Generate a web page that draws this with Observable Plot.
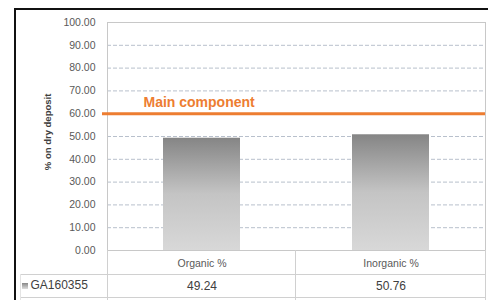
<!DOCTYPE html>
<html>
<head>
<meta charset="utf-8">
<script src="https://cdn.jsdelivr.net/npm/d3@7"></script>
<script src="https://cdn.jsdelivr.net/npm/@observablehq/plot@0.6"></script>
<style>
  html, body { margin: 0; padding: 0; background: #fff; }
  #wrap { position: relative; width: 488px; height: 300px; overflow: hidden; font-family: "Liberation Sans", Arial, sans-serif; }
  .ln { position: absolute; background: #d0d0d0; }
  .blk { position: absolute; background: #111; }
</style>
</head>
<body>
<div id="wrap"></div>
<script>
const categories = ["Organic %", "Inorganic %"];
const values = [49.24, 50.76];
const seriesName = "GA160355";
const yTicks = [0, 10, 20, 30, 40, 50, 60, 70, 80, 90, 100];
const refValue = 60;
const refLabel = "Main component";
const yTitle = "% on dry deposit";

const data = categories.map((c, i) => ({category: c, value: values[i]}));

const chart = Plot.plot({
  width: 488,
  height: 300,
  marginLeft: 107,
  marginRight: 3,
  marginTop: 22,
  marginBottom: 50,
  style: {fontFamily: "Liberation Sans, Arial, sans-serif", fontSize: "10px", color: "#595959", background: "transparent"},
  x: {domain: categories, paddingInner: 0.59, paddingOuter: 0.295, axis: null},
  y: {domain: [0, 100], ticks: yTicks, label: null, axis: null},
  marks: [
    () => {
      const ns = "http://www.w3.org/2000/svg";
      const defs = document.createElementNS(ns, "defs");
      defs.innerHTML = `<linearGradient id="barGrad" x1="0" y1="0" x2="0" y2="1">
        <stop offset="0" stop-color="#858585"/><stop offset="0.5" stop-color="#c4c4c4"/><stop offset="1" stop-color="#d8d8d8"/></linearGradient>`;
      return defs;
    },
    Plot.gridY(yTicks.filter(t => t > 0 && t < 100), {stroke: "#b8c0cc", strokeOpacity: 1, strokeDasharray: "4,2", strokeWidth: 1}),
    Plot.ruleY([100], {stroke: "#c8c8c8", strokeWidth: 1}),
    Plot.ruleY([0], {stroke: "#bfbfbf", strokeWidth: 1}),
    Plot.frame({stroke: "#c8c8c8", strokeWidth: 1}),
    Plot.barY(data, {x: "category", y: "value", fill: "url(#barGrad)"}),
    Plot.axisY({ticks: yTicks, tickFormat: d => d.toFixed(2), tickSize: 0, tickPadding: 12, fontSize: 10.5, fill: "#595959", label: null}),
    Plot.text([yTitle], {y: [52], frameAnchor: "left", textAnchor: "middle", dx: -60, rotate: -90, fontWeight: "bold", fontSize: 9.5, fill: "#404040"}),
    Plot.ruleY([refValue], {stroke: "#ed7d31", strokeWidth: 3, insetLeft: -5}),
    Plot.text([refLabel], {y: [refValue], frameAnchor: "left", dx: 36, dy: -11, textAnchor: "start", fill: "#ed7d31", fontWeight: "bold", fontSize: 14}),
    Plot.text(data, {x: "category", y: () => 0, text: "category", dy: 13, fontSize: 10.5, fill: "#595959"}),
    Plot.text(data, {x: "category", y: () => 0, text: d => d.value.toFixed(2), dy: 36, fontSize: 12, fill: "#404040"}),
    Plot.text([seriesName], {y: [0], frameAnchor: "left", dx: -77, dy: 35, textAnchor: "start", fontSize: 12, fill: "#404040"})
  ]
});

const wrap = document.getElementById("wrap");
wrap.appendChild(chart);
chart.style.position = "absolute";
chart.style.left = "0px";
chart.style.top = "0px";

function addDiv(cls, l, t, w, h, extra) {
  const d = document.createElement("div");
  d.className = cls;
  d.style.left = l + "px"; d.style.top = t + "px";
  d.style.width = w + "px"; d.style.height = h + "px";
  if (extra) Object.assign(d.style, extra);
  wrap.appendChild(d);
}
// data table lines
addDiv("ln", 20, 274, 465, 1);
addDiv("ln", 20, 297, 465, 1);
addDiv("ln", 107, 250, 1, 50);
addDiv("ln", 295, 250, 1, 50);
addDiv("ln", 485, 250, 1, 50);
addDiv("ln", 20, 274, 1, 26, {background: "#e4e4e4"});
// legend key
addDiv("ln", 22, 283, 6, 6, {background: "linear-gradient(#888, #ddd)"});
// black outer frame
addDiv("blk", 14, 8, 2, 292);
addDiv("blk", 14, 8, 474, 2);
</script>
</body>
</html>
